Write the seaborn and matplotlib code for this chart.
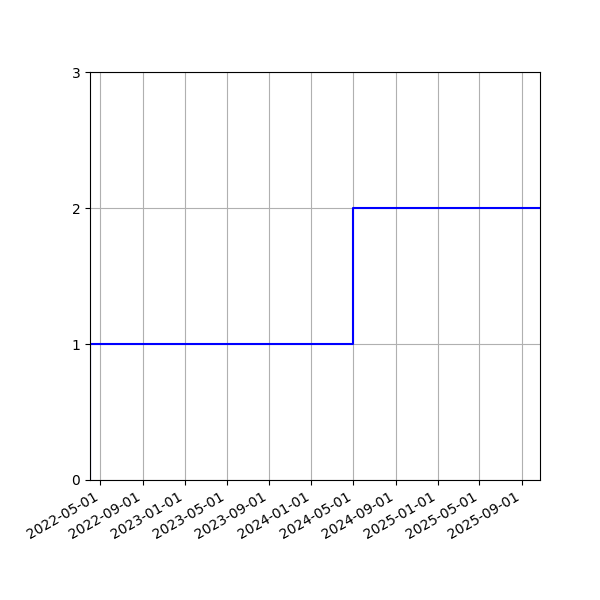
import pandas as pd
import matplotlib
matplotlib.use("Agg")
import matplotlib.pyplot as plt
import matplotlib.dates as mdates
import seaborn as sns

# cumulative count over time (step chart)
dates = pd.to_datetime(["2022-04-01", "2022-04-01", "2024-05-01", "2025-10-23"])
counts = [0, 1, 2, 2]
y_ticks = [0, 1, 2, 3]

df = pd.DataFrame({"date": dates, "count": counts})

fig, ax = plt.subplots(figsize=(6, 6), dpi=100)
sns.lineplot(data=df, x="date", y="count", ax=ax, color="blue",
             drawstyle="steps-post", estimator=None, sort=False, linewidth=1.5)

ax.set_xlim(df["date"].min(), df["date"].max())
ax.set_ylim(0, 3)
ax.set_yticks(y_ticks)
ax.xaxis.set_major_locator(mdates.MonthLocator(bymonth=(1, 5, 9)))
ax.xaxis.set_major_formatter(mdates.DateFormatter("%Y-%m-%d"))
ax.set_xlabel("")
ax.set_ylabel("")
ax.grid(True)
fig.autofmt_xdate()
fig.subplots_adjust(left=0.15, right=0.9, top=0.88, bottom=0.2)

fig.savefig("out.png")
